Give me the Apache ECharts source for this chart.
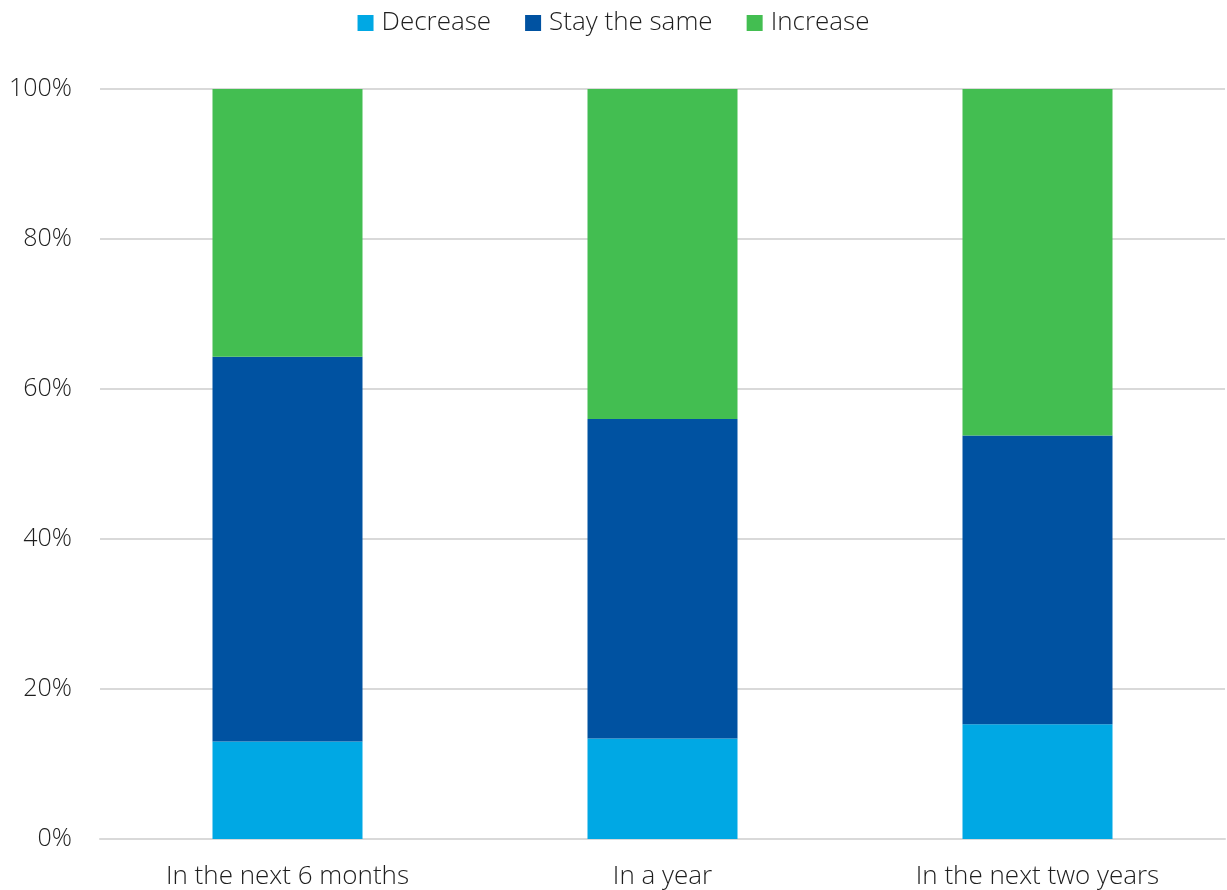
<!DOCTYPE html>
<html><head><meta charset="utf-8">
<script src="https://cdn.jsdelivr.net/npm/echarts@6/dist/echarts.min.js"></script>
<style>html,body{margin:0;padding:0;background:#fff}#c{width:1227px;height:890px}</style>
</head><body><div id="c"></div>
<script>
const categories = ['In the next 6 months', 'In a year', 'In the next two years'];
const decrease = [13.0, 13.4, 15.3];
const stayTheSame = [51.3, 42.6, 38.5];
const increase = [35.7, 44.0, 46.2];
const yTicks = [0, 20, 40, 60, 80, 100];

const font = '"Open Sans", sans-serif';
const txt = '#1e1e1e';
const chart = echarts.init(document.getElementById('c'), null, {renderer: 'canvas'});
chart.setOption({
  animation: false,
  color: ['#00A8E4', '#0052A1', '#43BE51'],
  legend: {
    top: 5, left: 'center', itemWidth: 16, itemHeight: 16, itemGap: 34,
    icon: 'rect',
    textStyle: {fontFamily: font, fontSize: 26, fontWeight: 300, color: txt, padding: [0,0,0,3]},
    data: ['Decrease', 'Stay the same', 'Increase']
  },
  grid: {left: 100, right: 2, top: 89, bottom: 49, containLabel: false},
  xAxis: {
    type: 'category', data: categories,
    axisTick: {show: false},
    axisLine: {lineStyle: {color: '#d9d9d9', width: 2}},
    axisLabel: {fontFamily: font, fontSize: 26, fontWeight: 300, color: txt, margin: 25}
  },
  yAxis: {
    type: 'value', min: 0, max: 100, interval: 20,
    axisLine: {show: false}, axisTick: {show: false},
    splitLine: {lineStyle: {color: '#d9d9d9', width: 2}},
    axisLabel: {fontFamily: font, fontSize: 25, fontWeight: 300, color: txt, margin: 28,
      formatter: v => yTicks.includes(v) ? v + '%' : ''}
  },
  series: [
    {name: 'Decrease', type: 'bar', stack: 's', data: decrease, barWidth: 150},
    {name: 'Stay the same', type: 'bar', stack: 's', data: stayTheSame, barWidth: 150},
    {name: 'Increase', type: 'bar', stack: 's', data: increase, barWidth: 150}
  ]
});
</script></body></html>
